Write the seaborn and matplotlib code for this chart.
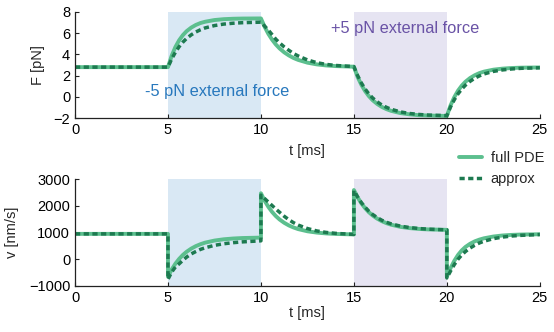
import numpy as np
import pandas as pd
import seaborn as sns
import matplotlib.pyplot as plt

# time points (ms)
t_F = [0, 5, 5.2, 5.4, 5.6, 5.8, 6, 6.25, 6.5, 6.75, 7, 7.5, 8, 8.5, 9, 10,
       10.2, 10.4, 10.6, 10.8, 11, 11.25, 11.5, 11.75, 12, 12.5, 13, 13.5, 14, 15,
       15.2, 15.4, 15.6, 15.8, 16, 16.25, 16.5, 16.75, 17, 17.5, 18, 18.5, 19, 20,
       20.2, 20.4, 20.6, 20.8, 21, 21.25, 21.5, 21.75, 22, 22.5, 23, 23.5, 24, 25]

F_full = [2.8, 2.80, 3.87, 4.69, 5.32, 5.80, 6.17, 6.51, 6.76, 6.94, 7.06, 7.22, 7.30, 7.34, 7.36, 7.37,
          6.58, 5.92, 5.38, 4.93, 4.56, 4.19, 3.90, 3.66, 3.48, 3.22, 3.06, 2.96, 2.90, 2.84,
          1.88, 1.15, 0.56, 0.09, -0.29, -0.65, -0.93, -1.14, -1.30, -1.51, -1.63, -1.71, -1.74, -1.78,
          -0.79, -0.02, 0.59, 1.06, 1.43, 1.78, 2.04, 2.24, 2.38, 2.56, 2.66, 2.72, 2.75, 2.77]

F_approx = [2.8, 2.80, 3.57, 4.20, 4.72, 5.14, 5.49, 5.83, 6.10, 6.31, 6.48, 6.70, 6.84, 6.92, 6.97, 7.02,
            6.65, 6.27, 5.85, 5.42, 5.08, 4.70, 4.38, 4.08, 3.85, 3.48, 3.22, 3.06, 2.96, 2.85,
            2.01, 1.32, 0.76, 0.30, -0.08, -0.45, -0.75, -0.97, -1.15, -1.40, -1.55, -1.64, -1.70, -1.75,
            -0.93, -0.26, 0.29, 0.74, 1.11, 1.47, 1.76, 1.98, 2.16, 2.40, 2.54, 2.63, 2.69, 2.74]

t_v = [0, 5,
       5, 5.2, 5.4, 5.6, 5.8, 6, 6.25, 6.5, 6.75, 7, 7.5, 8, 8.5, 9, 10,
       10, 10.2, 10.4, 10.6, 10.8, 11, 11.25, 11.5, 11.75, 12, 12.5, 13, 13.5, 14, 15,
       15, 15.2, 15.4, 15.6, 15.8, 16, 16.25, 16.5, 16.75, 17, 17.5, 18, 18.5, 19, 20,
       20, 20.2, 20.4, 20.6, 20.8, 21, 21.25, 21.5, 21.75, 22, 22.5, 23, 23.5, 24, 25]

v_full = [950, 950,
          -650, -384, -165, 13, 160, 279, 398, 492, 564, 622, 699, 747, 776, 794, 810,
          2470, 2189, 1959, 1771, 1616, 1490, 1365, 1266, 1190, 1129, 1047, 998, 967, 948, 930,
          2590, 2319, 2095, 1914, 1764, 1642, 1521, 1425, 1351, 1293, 1213, 1165, 1135, 1117, 1100,
          -650, -330, -60, 160, 330, 460, 580, 670, 735, 785, 850, 890, 912, 925, 935]

v_approx = [950, 950,
            -750, -480, -290, -170, -40, 80, 200, 290, 370, 430, 520, 580, 620, 650, 690,
            2400, 2270, 2140, 2010, 1880, 1760, 1610, 1480, 1370, 1280, 1150, 1060, 1005, 970, 930,
            2570, 2330, 2120, 1950, 1800, 1680, 1560, 1460, 1385, 1325, 1240, 1185, 1150, 1125, 1100,
            -700, -440, -200, 0, 160, 290, 420, 525, 610, 675, 770, 830, 870, 895, 925]

force_windows = [(5, 10), (15, 20)]
window_colors = ["#d9e8f4", "#e6e4f2"]

full_col = "#5cbf8e"
approx_col = "#1d7a50"

sns.set_style("ticks")
plt.rcParams['font.family'] = ['Liberation Sans', 'DejaVu Sans']
plt.rcParams['font.size'] = 10.5
plt.rcParams['xtick.direction'] = 'in'
plt.rcParams['ytick.direction'] = 'in'

fig = plt.figure(figsize=(5.54, 3.32), dpi=100)
ax1 = fig.add_axes([0.1354, 0.6437, 0.839, 0.321])
ax2 = fig.add_axes([0.1354, 0.1386, 0.839, 0.322])

for ax in (ax1, ax2):
    for (a, b), c in zip(force_windows, window_colors):
        ax.axvspan(a, b, color=c, lw=0, zorder=0)

# top panel: force
sns.lineplot(x=t_F, y=F_full, ax=ax1, color=full_col, lw=2.8, sort=False, estimator=None,
             label="full PDE", legend=False)
sns.lineplot(x=t_F, y=F_approx, ax=ax1, color=approx_col, lw=2.5, sort=False, estimator=None,
             dashes=False, legend=False)
ax1.lines[-1].set_linestyle((0, (1.5, 1)))
ax1.set_xlim(0, 25)
ax1.set_ylim(-2, 8)
ax1.set_yticks([-2, 0, 2, 4, 6, 8])
ax1.set_xticks([0, 5, 10, 15, 20, 25])
ax1.set_ylabel("F [pN]")
ax1.set_xlabel("t [ms]", labelpad=5)
ax1.text(3.76, 0.47, "-5 pN external force", color="#2878bd", va="center", fontsize=11.8)
ax1.text(13.76, 6.47, "+5 pN external force", color="#6a53a6", va="center", fontsize=11.8)

# bottom panel: velocity
sns.lineplot(x=t_v, y=v_full, ax=ax2, color=full_col, lw=2.8, sort=False, estimator=None,
             label="full PDE", legend=False)
sns.lineplot(x=t_v, y=v_approx, ax=ax2, color=approx_col, lw=2.5, sort=False, estimator=None,
             label="approx", legend=False)
ax2.lines[-1].set_linestyle((0, (1.5, 1)))
ax2.set_xlim(0, 25)
ax2.set_ylim(-1000, 3000)
ax2.set_yticks([-1000, 0, 1000, 2000, 3000])
ax2.set_xticks([0, 5, 10, 15, 20, 25])
ax2.set_ylabel("v [nm/s]")
ax2.set_xlabel("t [ms]", labelpad=1)

for ax in (ax1, ax2):
    sns.despine(ax=ax)
    ax.tick_params(length=3, width=0.8, colors="#222222", labelcolor="black")
    for s in ("left", "bottom"):
        ax.spines[s].set_color("#222222")
        ax.spines[s].set_linewidth(0.9)

ax1.yaxis.set_label_coords(-0.065, 0.5)
ax2.yaxis.set_label_coords(-0.12, 0.5)

h, l = ax2.get_legend_handles_labels()
fig.legend(h, l, loc="upper right", bbox_to_anchor=(0.998, 0.572), frameon=False,
           handlelength=1.6, handletextpad=0.6, labelspacing=0.5, borderaxespad=0.2)

fig.savefig("out.png", dpi=100)
